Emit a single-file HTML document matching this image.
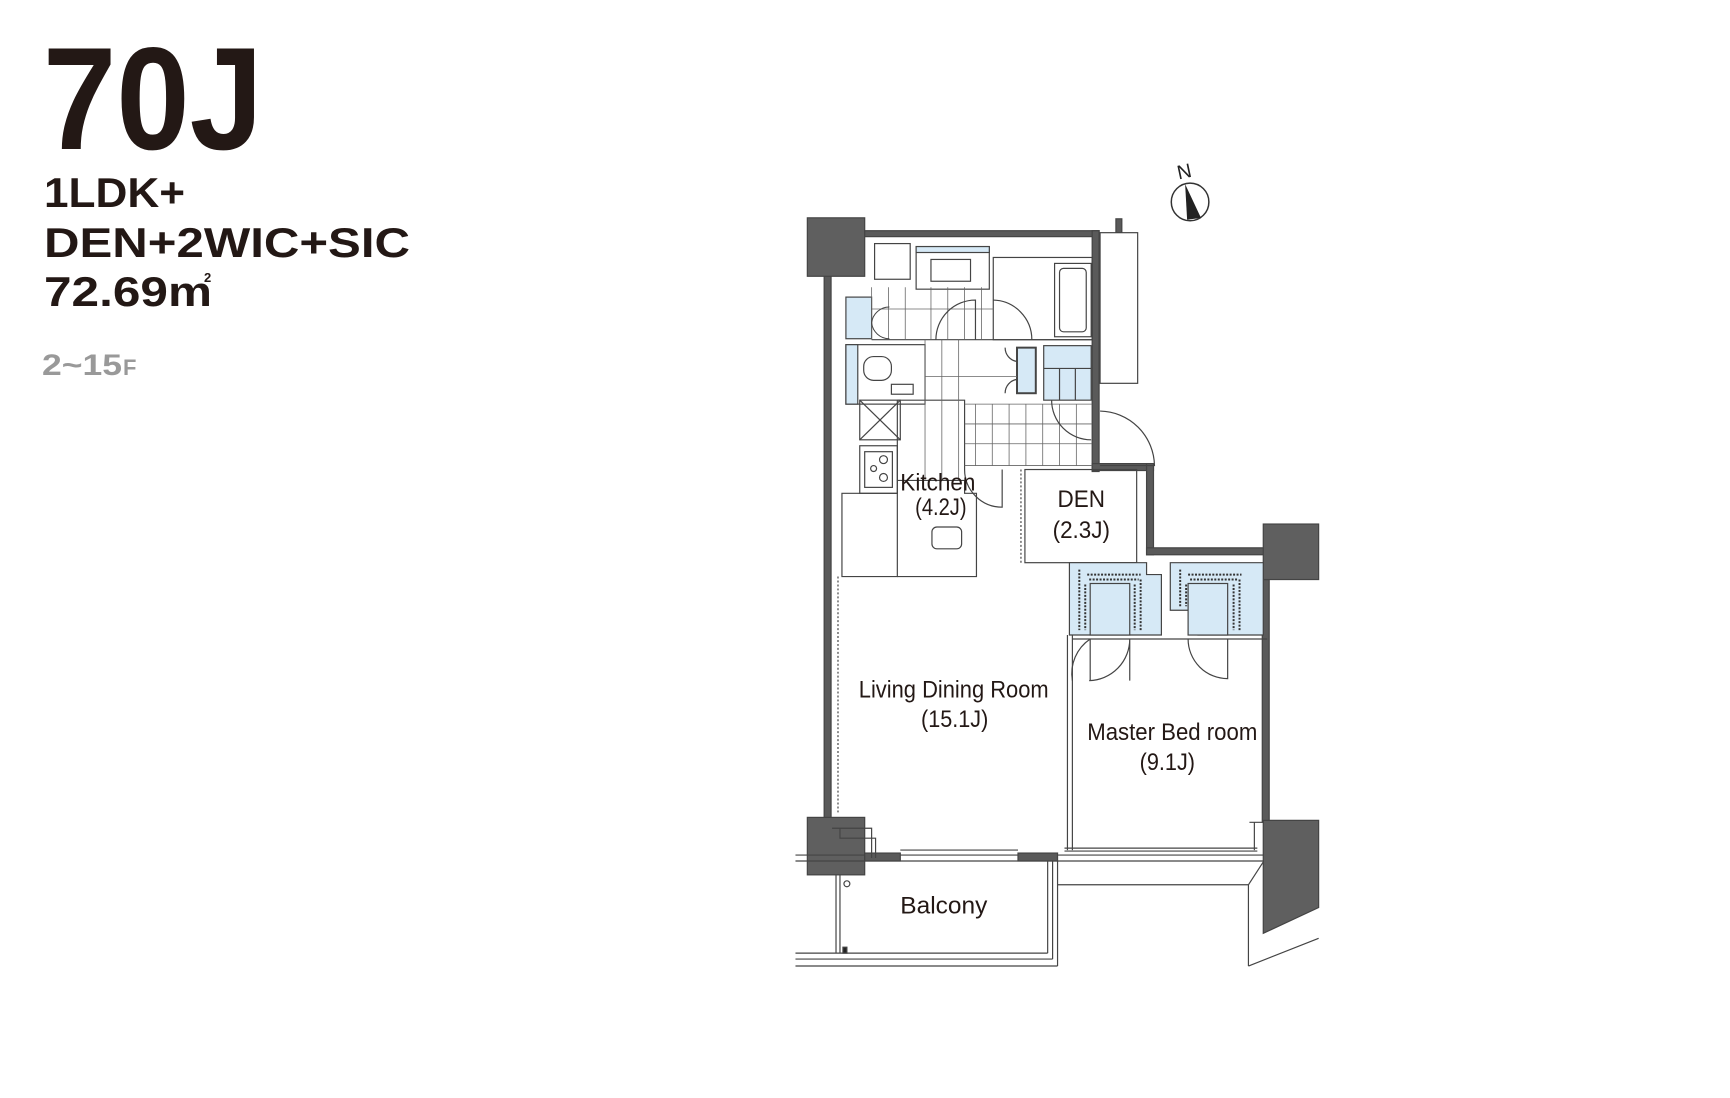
<!DOCTYPE html>
<html><head><meta charset="utf-8"><style>
html,body{margin:0;padding:0;background:#fff;}
svg{display:block;}
</style></head><body>
<svg width="1730" height="1098" viewBox="0 0 1730 1098" xmlns="http://www.w3.org/2000/svg" font-family="Liberation Sans, sans-serif">
<rect width="1730" height="1098" fill="#fff"/>
<!-- Header -->
<text x="43" y="149" font-size="146" font-weight="bold" fill="#231815" textLength="220" lengthAdjust="spacingAndGlyphs">70J</text>
<text x="44" y="207" font-size="42" font-weight="bold" fill="#231815" textLength="141" lengthAdjust="spacingAndGlyphs">1LDK+</text>
<text x="44" y="257" font-size="42" font-weight="bold" fill="#231815" textLength="366" lengthAdjust="spacingAndGlyphs">DEN+2WIC+SIC</text>
<text x="44" y="306" font-size="42" font-weight="bold" fill="#231815" textLength="168" lengthAdjust="spacingAndGlyphs">72.69m</text>
<text x="204" y="282" font-size="13" font-weight="bold" fill="#231815">2</text>
<text x="42" y="375" font-size="30" font-weight="bold" fill="#999" textLength="80" lengthAdjust="spacingAndGlyphs">2~15</text>
<text x="123" y="375" font-size="22" font-weight="bold" fill="#999">F</text>

<g transform="matrix(0.989 0 0 0.991 1.3 -0.2)">
<!-- Compass -->
<text x="1196" y="180" font-size="20" fill="#222" text-anchor="middle" transform="rotate(-12 1196 173)">N</text>
<circle cx="1202" cy="204" r="19" fill="none" stroke="#333" stroke-width="1.5"/>
<polygon points="1197,186 1213,220 1199,222" fill="#222"/>

<g stroke="#444" stroke-width="1.2" fill="none">
<rect x="832" y="233" width="278" height="6" fill="#5a5a5a"/>
<rect x="1127" y="221" width="6" height="14" fill="#5a5a5a"/>
<rect x="832" y="276" width="7" height="552" fill="#5a5a5a"/>
<rect x="1103" y="233" width="7" height="243" fill="#5a5a5a"/>
<rect x="1103" y="468" width="62" height="7" fill="#5a5a5a"/>
<rect x="1158" y="468" width="7" height="92" fill="#5a5a5a"/>
<rect x="1158" y="553" width="120" height="7" fill="#5a5a5a"/>
<rect x="1275" y="585" width="7" height="245" fill="#5a5a5a"/>
<rect x="815" y="220" width="58" height="59" fill="#5f5f5f"/>
<rect x="1276" y="529" width="56" height="56" fill="#5f5f5f"/>
<rect x="815" y="825" width="58" height="58" fill="#5f5f5f"/>
<polygon points="1276,828 1332,828 1332,916 1276,942" fill="#5f5f5f"/>
<rect x="1111" y="235" width="38" height="152" fill="#fff"/>
<line x1="803" y1="863" x2="1276" y2="863"/>
<line x1="803" y1="869" x2="1276" y2="869"/>
<rect x="873" y="861" width="36" height="8" fill="#5a5a5a"/>
<rect x="1028" y="861" width="40" height="8" fill="#5a5a5a"/>
<line x1="909" y1="858" x2="1028" y2="858"/>
<line x1="1075" y1="856" x2="1270" y2="856"/>
<line x1="1075" y1="859" x2="1270" y2="859"/>
<line x1="844" y1="883" x2="844" y2="962"/>
<line x1="848" y1="883" x2="848" y2="962"/>
<line x1="803" y1="962" x2="1058" y2="962"/>
<line x1="803" y1="968" x2="1063" y2="968"/>
<line x1="803" y1="975" x2="1068" y2="975"/>
<line x1="1058" y1="869" x2="1058" y2="962"/>
<line x1="1063" y1="869" x2="1063" y2="968"/>
<line x1="1068" y1="869" x2="1068" y2="975"/>
<circle cx="855" cy="892" r="3"/>
<rect x="851" y="956" width="4" height="6" fill="#222"/>
<line x1="1068" y1="893" x2="1261" y2="893"/>
<line x1="1261" y1="893" x2="1276" y2="870"/>
<line x1="1261" y1="893" x2="1261" y2="975"/>
<line x1="1261" y1="975" x2="1332" y2="947"/>
<line x1="1078" y1="641" x2="1078" y2="858"/>
<line x1="1083" y1="641" x2="1083" y2="858"/>
<path d="M840,836 H880 V866 M848,836 V846 H884 V866"/>
<path d="M1267,830 V858 M1262,830 H1275"/>
<path d="M850,498 H906 V582 H850 Z"/>
<path d="M906,498 V485 H974 V498 H986 V582 H906"/>
<rect x="941" y="532" width="30" height="22" rx="5"/>
<line x1="846" y1="582" x2="846" y2="820" stroke-dasharray="2,2"/>
<rect x="868" y="404" width="41" height="40"/>
<line x1="868" y1="404" x2="909" y2="444"/><line x1="909" y1="404" x2="868" y2="444"/>
<rect x="868" y="450" width="38" height="48"/>
<rect x="873" y="456" width="28" height="36"/>
<circle cx="892" cy="464" r="4"/><circle cx="892" cy="482" r="4"/><circle cx="882" cy="473" r="3"/>
<path d="M906,404 V485 M906,404 H974 V474"/>
<rect x="883" y="246" width="36" height="36"/>
<rect x="925" y="249" width="74" height="43"/>
<rect x="925" y="249" width="74" height="6" fill="#d6e9f6"/>
<rect x="940" y="262" width="40" height="22"/>
<rect x="1003" y="260" width="100" height="83"/>
<rect x="1065" y="266" width="37" height="74"/>
<rect x="1070" y="271" width="27" height="64" rx="4"/>
<rect x="854" y="300" width="26" height="42" fill="#d6e9f6"/>
<rect x="854" y="348" width="80" height="60"/>
<rect x="854" y="348" width="12" height="60" fill="#d6e9f6"/>
<rect x="872" y="360" width="28" height="24" rx="10"/>
<rect x="900" y="388" width="22" height="10"/>
<rect x="1027" y="351" width="19" height="46" fill="#d6e9f6" stroke-width="2"/>
<rect x="1054" y="349" width="48" height="55" fill="#d6e9f6"/>
<line x1="1054" y1="372" x2="1102" y2="372"/>
<line x1="1070" y1="372" x2="1070" y2="404"/><line x1="1086" y1="372" x2="1086" y2="404"/>
<line x1="880" y1="343" x2="1103" y2="343"/>
<g stroke="#666" stroke-width="0.8">
<path d="M880,290 V343 M897,290 V343 M914,290 V343 M940,290 V343 M957,290 V343 M974,290 V343 M991,290 V343"/>
<path d="M880,312 H1003"/>
<path d="M934,343 V485 M951,343 V485 M968,343 V485 M985,408 V470 M1002,408 V470 M1019,408 V470 M1036,408 V470 M1053,408 V470 M1070,408 V470 M1087,408 V470"/>
<path d="M934,380 H1027 M974,408 H1103 M974,428 H1103 M974,448 H1103 M974,470 H1103"/>
</g>
<path d="M880,326 A18,18 0 0 1 898,310 M880,326 A18,18 0 0 0 898,342" stroke-width="1"/>
<path d="M945,343 A40,40 0 0 1 985,303 V343"/>
<path d="M1003,303 A40,40 0 0 1 1042,343"/>
<path d="M1015,351 A14,14 0 0 0 1027,365 M1015,397 A14,14 0 0 1 1027,383"/>
<path d="M1062,404 A40,40 0 0 0 1102,444"/>
<path d="M1111,415 A56,56 0 0 1 1166,470 H1111"/>
<path d="M974,474 A38,38 0 0 0 1012,512 V474"/>
<rect x="1035" y="474" width="113" height="94"/>
<line x1="1031" y1="474" x2="1031" y2="568" stroke-dasharray="2,2"/>
<path d="M1080,568 H1158 V580 H1173 V641 H1080 Z" fill="#d6e9f6"/>
<path d="M1182,568 H1276 V641 H1210 V616 H1182 Z" fill="#d6e9f6"/>
<rect x="1101" y="589" width="40" height="52" fill="#d6e9f6"/>
<rect x="1200" y="589" width="40" height="52" fill="#d6e9f6"/>
<g stroke="#333" stroke-width="2" stroke-dasharray="2,1.5">
<path d="M1090,575 V636 M1096,590 V636 M1146,590 V636 M1152,585 V636 M1098,580 H1152 M1100,585 H1150"/>
<path d="M1192,575 V612 M1198,590 V612 M1246,590 V636 M1252,585 V636 M1200,580 H1254 M1202,585 H1250"/>
</g>
<line x1="1083" y1="645" x2="1280" y2="645"/>
<path d="M1101,645 A42,42 0 0 0 1083,687 M1141,645 A42,42 0 0 1 1100,687 M1101,645 V687 M1141,645 V687"/>
<path d="M1200,645 A40,40 0 0 0 1240,685 V645"/>
</g>

<g font-size="24" fill="#231815" text-anchor="middle">
<text x="947" y="495" textLength="76" lengthAdjust="spacingAndGlyphs">Kitchen</text>
<text x="950" y="520" textLength="52" lengthAdjust="spacingAndGlyphs">(4.2J)</text>
<text x="1092" y="512" textLength="48" lengthAdjust="spacingAndGlyphs">DEN</text>
<text x="1092" y="543" textLength="58" lengthAdjust="spacingAndGlyphs">(2.3J)</text>
<text x="963" y="704" textLength="192" lengthAdjust="spacingAndGlyphs">Living Dining Room</text>
<text x="964" y="734" textLength="68" lengthAdjust="spacingAndGlyphs">(15.1J)</text>
<text x="1184" y="747" textLength="172" lengthAdjust="spacingAndGlyphs">Master Bed room</text>
<text x="1179" y="777" textLength="56" lengthAdjust="spacingAndGlyphs">(9.1J)</text>
<text x="953" y="922" textLength="88" lengthAdjust="spacingAndGlyphs">Balcony</text>
</g>
</g>
</svg>
</body></html>
